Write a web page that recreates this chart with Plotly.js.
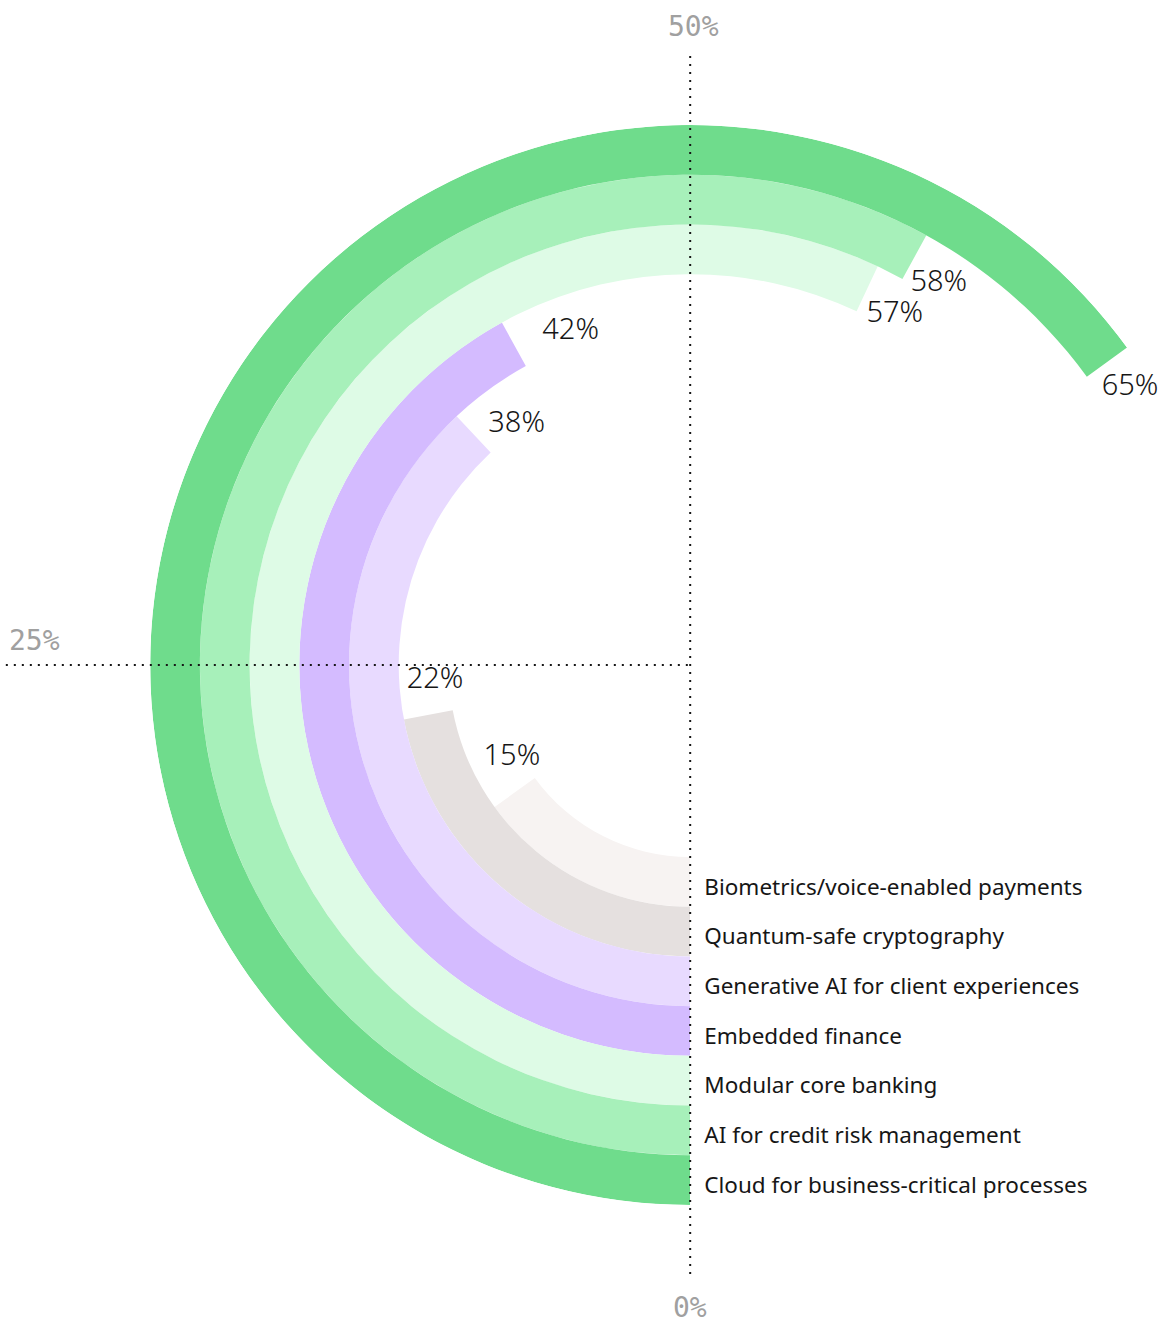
<!DOCTYPE html>
<html><head><meta charset="utf-8">
<script src="https://cdn.plot.ly/plotly-3.0.1.min.js"></script>
<style>html,body{margin:0;padding:0;background:#fff;overflow:hidden}</style>
</head><body><div id="chart" style="width:1165px;height:1325px"></div>
<script>
// Data, innermost ring first
const categories = [
  "Biometrics/voice-enabled payments",
  "Quantum-safe cryptography",
  "Generative AI for client experiences",
  "Embedded finance",
  "Modular core banking",
  "AI for credit risk management",
  "Cloud for business-critical processes"
];
const values = [15, 22, 38, 42, 57, 58, 65];
const valueLabels = ["15%", "22%", "38%", "42%", "57%", "58%", "65%"];
const axisLabels = ["0%", "25%", "50%"];

// Styles / placement
const colors = ["#f7f3f2", "#e5e0df", "#e8daff", "#d4bbff", "#defbe6", "#a7f0ba", "#6fdc8c"];
const labelArc = [30, 32, 38, 56, 36, 34, 34];     // px past bar end
const labelDr  = [-16, -11, -20, -12, -10, -10, 5]; // px from ring middle
const W = 1165, H = 1325;
const CX = 690, CY = 665;        // centre in pixels
const HOLE = 192, RING = 49.7;   // radial units (1 unit = 1 px)
const n = values.length;
const R = HOLE + n * RING;
const DEG = 3.6;                 // degrees per percent
const textColor = "#161616";
const bodyFont = "Noto Sans, sans-serif";

const maxV = Math.max(...values);
const sectorStart = 270 - maxV * DEG - 6;
const bboxRight = Math.max(Math.cos(sectorStart * Math.PI / 180), 0);
const plotW = R * (1 + bboxRight);
const margin = { l: CX - R, r: W - (CX - R) - plotW, t: CY - R, b: H - CY - R, pad: 0 };

const base = values.map((v, i) => HOLE + i * RING);
const mids = base.map(b => b + RING / 2);

const bars = {
  type: "barpolar",
  r: values.map(() => RING),
  base: base,
  theta: values.map(v => v * DEG / 2),
  width: values.map(v => v * DEG),
  marker: { color: colors, line: { width: 0 } },
  hoverinfo: "skip",
  showlegend: false
};

const valueText = {
  type: "scatterpolar",
  mode: "text",
  r: mids.map((m, i) => m + labelDr[i]),
  theta: values.map((v, i) => v * DEG + (labelArc[i] / (mids[i] + labelDr[i])) * 180 / Math.PI),
  text: valueLabels,
  textposition: "middle center",
  textfont: { family: bodyFont, size: 29, color: textColor, weight: 300 },
  cliponaxis: false,
  hoverinfo: "skip",
  showlegend: false
};

const catText = {
  type: "scatterpolar",
  mode: "markers+text",
  r: mids.map(m => m + 7),
  theta: values.map(() => 0),
  text: categories,
  textposition: "middle right",
  marker: { size: 21, opacity: 0 },
  textfont: { family: bodyFont, size: 22.5, color: textColor },
  cliponaxis: false,
  hoverinfo: "skip",
  showlegend: false
};

const pw = W - margin.l - margin.r, ph = H - margin.t - margin.b;
const px = x => (x - margin.l) / pw;
const py = y => (H - margin.b - y) / ph;

const axFont = { family: "DejaVu Sans Mono, monospace", size: 28, color: "#a0a0a0" };
const layout = {
  width: W, height: H,
  margin: margin,
  paper_bgcolor: "#fff",
  showlegend: false,
  polar: {
    domain: { x: [0, 1], y: [0, 1] },
    sector: [sectorStart, 270],
    bgcolor: "rgba(0,0,0,0)",
    bargap: 0,
    radialaxis: { range: [0, R], visible: false, showgrid: false, showline: false, showticklabels: false, ticks: "" },
    angularaxis: { rotation: 270, direction: "clockwise", visible: false, showgrid: false, showline: false, showticklabels: false, ticks: "" }
  },
  shapes: [
    { type: "line", xref: "paper", yref: "paper", x0: px(CX), x1: px(CX), y0: py(56), y1: py(1278),
      line: { color: textColor, width: 2, dash: "2px,6px" }, layer: "above" },
    { type: "line", xref: "paper", yref: "paper", x0: px(6), x1: px(CX), y0: py(CY), y1: py(CY),
      line: { color: textColor, width: 2, dash: "2px,6px" }, layer: "above" }
  ],
  annotations: [
    { text: axisLabels[2], x: px(693), y: py(27), xref: "paper", yref: "paper", showarrow: false, font: axFont, xanchor: "center", yanchor: "middle" },
    { text: axisLabels[1], x: px(35), y: py(641), xref: "paper", yref: "paper", showarrow: false, font: axFont, xanchor: "center", yanchor: "middle" },
    { text: axisLabels[0], x: px(690), y: py(1307), xref: "paper", yref: "paper", showarrow: false, font: axFont, xanchor: "center", yanchor: "middle" }
  ]
};

Plotly.newPlot("chart", [bars, valueText, catText], layout, { displayModeBar: false, staticPlot: true });
</script>
</body></html>
